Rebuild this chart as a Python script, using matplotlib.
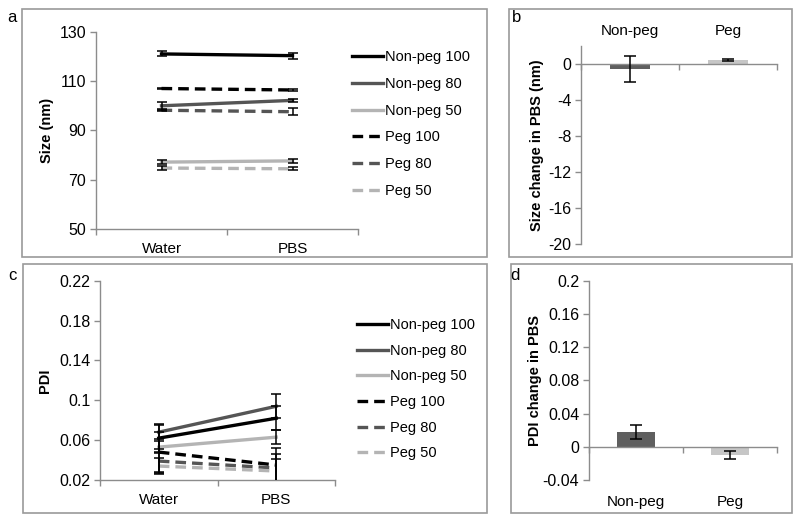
import matplotlib
matplotlib.use("Agg")
import matplotlib.pyplot as plt
from matplotlib.patches import Rectangle
import numpy as np

plt.rcParams['font.family'] = ['Liberation Sans', 'DejaVu Sans']

# ---- data ----
conditions = ["Water", "PBS"]
series = ["Non-peg 100", "Non-peg 80", "Non-peg 50", "Peg 100", "Peg 80", "Peg 50"]

size_means = {
    "Non-peg 100": [121.0, 120.3],
    "Non-peg 80": [100.0, 102.2],
    "Non-peg 50": [77.2, 77.7],
    "Peg 100": [107.0, 106.4],
    "Peg 80": [98.2, 97.6],
    "Peg 50": [74.8, 74.5],
}
size_errs = {
    "Non-peg 100": [1.0, 1.2],
    "Non-peg 80": [1.6, 0.5],
    "Non-peg 50": [0.7, 0.7],
    "Peg 100": [0.4, 0.5],
    "Peg 80": [0.5, 1.5],
    "Peg 50": [0.7, 0.6],
}
pdi_means = {
    "Non-peg 100": [0.062, 0.082],
    "Non-peg 80": [0.068, 0.094],
    "Non-peg 50": [0.053, 0.063],
    "Peg 100": [0.048, 0.035],
    "Peg 80": [0.039, 0.032],
    "Peg 50": [0.034, 0.029],
}
pdi_errs = {
    "Non-peg 100": [0.014, 0.012],
    "Non-peg 80": [0.007, 0.012],
    "Non-peg 50": [0.006, 0.007],
    "Peg 100": [0.020, 0.017],
    "Peg 80": [0.012, 0.014],
    "Peg 50": [0.008, 0.012],
}

groups = ["Non-peg", "Peg"]
size_change = [-0.55, 0.41]
size_change_err = [1.45, 0.12]
pdi_change = [0.0175, -0.0095]
pdi_change_err = [0.0085, 0.0048]

# ---- styles ----
line_colors = {"100": "#000000", "80": "#555555", "50": "#b4b4b4"}
bar_colors = ["#5f5f5f", "#c6c6c6"]
spine_col = "#8c8c8c"

fig = plt.figure(figsize=(8.0, 5.23), dpi=100)
W, H = 800.0, 523.0

def ax_px(x0, x1, ytop, ybot):
    return fig.add_axes([x0 / W, 1 - ybot / H, (x1 - x0) / W, (ybot - ytop) / H])

# panel frames
for (x0, y0, x1, y1) in [(22, 9, 487, 257), (509, 9, 792, 257),
                         (23, 264, 487, 513), (511, 264, 792, 513)]:
    fig.patches.append(Rectangle((x0 / W, 1 - y1 / H), (x1 - x0) / W, (y1 - y0) / H,
                                 transform=fig.transFigure, fill=False,
                                 edgecolor="#9a9a9a", lw=1.2))

for letter, (x, y) in zip("abcd", [(12, 18), (517, 18), (12, 276), (515, 276)]):
    fig.text(x / W, 1 - y / H, letter, fontsize=12, ha="center", va="center")


def style_axes(ax):
    for s in ["top", "right"]:
        ax.spines[s].set_visible(False)
    for s in ["left", "bottom"]:
        ax.spines[s].set_color(spine_col)
        ax.spines[s].set_linewidth(1.0)
    ax.tick_params(axis="y", colors=spine_col, labelcolor="black", labelsize=11.5,
                   length=4, width=1.0, pad=3)
    ax.tick_params(axis="x", which="major", length=0, labelsize=11, pad=9)
    ax.tick_params(axis="x", which="minor", colors=spine_col, length=4, width=1.0)
    ax.set_xlim(-0.5, 1.5)
    ax.set_xticks([-0.5, 0.5, 1.5], minor=True)


def line_panel(ax, means, errs, ylim, yticks, ylabel, ylabel_x, legend_xy, labelspacing):
    style_axes(ax)
    x = np.arange(len(conditions))
    for name in series:
        color = line_colors[name.split()[-1]]
        ls = (0, (3.2, 1.8)) if name.startswith("Peg") else "-"
        ax.plot(x, means[name], color=color, lw=2.4, ls=ls, label=name, zorder=3)
        ax.errorbar(x, means[name], yerr=errs[name], fmt="none", ecolor="black",
                    elinewidth=1.1, capsize=3.5, capthick=1.1, zorder=4)
    ax.set_ylim(*ylim)
    ax.set_yticks(yticks)
    ax.set_xticks(x)
    ax.set_xticklabels(conditions)
    ax.set_ylabel(ylabel, fontsize=10.5, fontweight="bold")
    ax.yaxis.set_label_coords(ylabel_x, 0.5)
    ax.legend(loc="upper left", bbox_to_anchor=(legend_xy[0] / W, 1 - legend_xy[1] / H),
              bbox_transform=fig.transFigure, frameon=False, fontsize=10.5,
              handlelength=2.1, handletextpad=0.15, labelspacing=labelspacing,
              borderpad=0, borderaxespad=0)


def bar_panel(ax, vals, errs, ylim, yticks, ylabel, ylabel_x, label_loc, pad, fmt):
    style_axes(ax)
    x = np.arange(len(groups))
    ax.bar(x, vals, width=0.41, color=bar_colors, zorder=2)
    ax.errorbar(x, vals, yerr=errs, fmt="none", ecolor="black", elinewidth=1.1,
                capsize=4, capthick=1.1, zorder=3)
    ax.set_ylim(*ylim)
    ax.set_yticks(yticks)
    ax.set_yticklabels([fmt(v) for v in yticks])
    ax.spines["bottom"].set_position(("data", 0))
    ax.set_xticks(x)
    ax.set_xticklabels([])
    sec = ax.secondary_xaxis(label_loc)
    sec.set_xticks(x)
    sec.set_xticklabels(groups)
    sec.spines[label_loc].set_visible(False)
    sec.tick_params(length=0, labelsize=11, pad=pad)
    ax.set_ylabel(ylabel, fontsize=10.5, fontweight="bold")
    ax.yaxis.set_label_coords(ylabel_x, 0.5)


ax_a = ax_px(96, 358, 31.7, 229.3)
line_panel(ax_a, size_means, size_errs, (50, 130), [50, 70, 90, 110, 130],
           "Size (nm)", -0.16, (352, 50), 0.88)

ax_c = ax_px(100, 335, 280.7, 480)
line_panel(ax_c, pdi_means, pdi_errs, (0.02, 0.22), [0.02, 0.06, 0.10, 0.14, 0.18, 0.22],
           "PDI", -0.204, (357, 318), 0.8)
ax_c.set_yticklabels(["0.02", "0.06", "0.1", "0.14", "0.18", "0.22"])

ax_b = ax_px(581, 777, 46, 244.3)
bar_panel(ax_b, size_change, size_change_err, (-20, 2), [-20, -16, -12, -8, -4, 0],
          "Size change in PBS (nm)", -0.19, "top", 6, lambda v: f"{v:g}")

ax_d = ax_px(589, 777, 280.7, 480)
bar_panel(ax_d, pdi_change, pdi_change_err, (-0.04, 0.2),
          [-0.04, 0, 0.04, 0.08, 0.12, 0.16, 0.2],
          "PDI change in PBS", -0.25, "bottom", 11, lambda v: f"{v:g}")

fig.savefig("out.png", dpi=100)
